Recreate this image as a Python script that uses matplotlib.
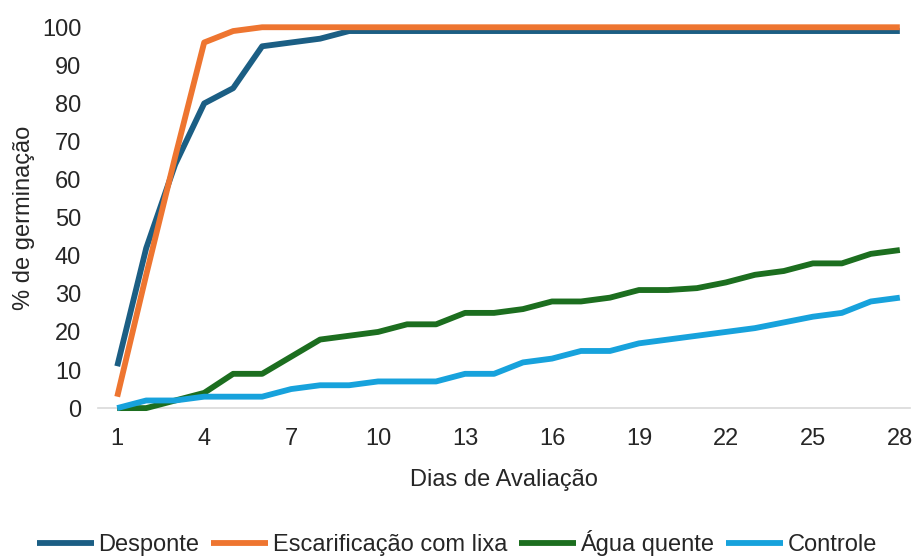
import matplotlib
matplotlib.use("Agg")
import matplotlib.pyplot as plt

dias = list(range(1, 29))
desponte = [11, 42, 64, 80, 84, 95, 96, 97, 99, 99, 99, 99, 99, 99, 99, 99, 99, 99, 99, 99, 99, 99, 99, 99, 99, 99, 99, 99]
escarificacao = [3, 35, 66, 96, 99, 100, 100, 100, 100, 100, 100, 100, 100, 100, 100, 100, 100, 100, 100, 100, 100, 100, 100, 100, 100, 100, 100, 100]
agua_quente = [0, 0, 2, 4, 9, 9, 13.5, 18, 19, 20, 22, 22, 25, 25, 26, 28, 28, 29, 31, 31, 31.5, 33, 35, 36, 38, 38, 40.5, 41.5]
controle = [0, 2, 2, 3, 3, 3, 5, 6, 6, 7, 7, 7, 9, 9, 12, 13, 15, 15, 17, 18, 19, 20, 21, 22.5, 24, 25, 28, 29]

series = [
    ("Desponte", desponte, "#1b5e84"),
    ("Escarificação com lixa", escarificacao, "#ee7530"),
    ("Água quente", agua_quente, "#1c6e1f"),
    ("Controle", controle, "#17a2dc"),
]
xticks = [1, 4, 7, 10, 13, 16, 19, 22, 25, 28]
yticks = list(range(0, 101, 10))

plt.rcParams['font.family'] = ['Liberation Sans', 'DejaVu Sans']

fig = plt.figure(figsize=(9.14, 5.56), dpi=100)
ax = fig.add_axes([0.107, 0.266, 0.8886, 0.685])

for name, vals, col in series:
    ax.plot(dias, vals, color=col, lw=4.2, label=name, clip_on=False,
            solid_joinstyle='round', solid_capstyle='butt')

ax.set_xlim(0.33, 28.35)
ax.set_ylim(0, 100)
ax.set_xticks(xticks)
ax.set_yticks(yticks)
ax.tick_params(axis='both', length=0, labelsize=17, colors='#262626')
ax.tick_params(axis='x', pad=14)
ax.tick_params(axis='y', pad=12)
for s in ['top', 'right', 'left']:
    ax.spines[s].set_visible(False)
ax.spines['bottom'].set_color('#d9d9d9')
ax.spines['bottom'].set_linewidth(1.2)
ax.spines['bottom'].set_zorder(0)

ax.set_xlabel("Dias de Avaliação", fontsize=17, color='#262626', labelpad=14)
ax.set_ylabel("% de germinação", fontsize=17, color='#262626', labelpad=5)

fig.legend(loc='center', bbox_to_anchor=(0.5, 1 - 543 / 556), ncol=4, frameon=False,
           fontsize=17, handlelength=2.4, handletextpad=0.2, columnspacing=0.5,
           labelcolor='#262626')

fig.savefig("out.png", dpi=100)
